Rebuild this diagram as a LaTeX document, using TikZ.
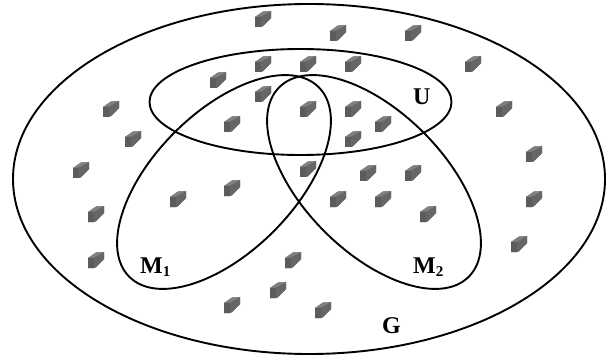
\documentclass[tikz,border=0pt]{standalone}
\usepackage{fontspec}
\setmainfont{Liberation Serif}
\newcommand{\subdigit}[1]{\raisebox{-3pt}{\fontsize{15}{15}\selectfont #1}}
\tikzset{
  region/.style={draw=black,line width=1.9pt,fill=none},
  lab/.style={font=\bfseries\fontsize{24}{26}\selectfont,inner sep=0pt,text=black,anchor=base west},
  pics/brick/.style={code={
    \begin{scope}[yscale=-1]
    \fill[black!55] (-8,-8) -- (-8,2) -- (0,7.5) -- (8,8) -- (8,1) -- (0,-7) -- (-3,-8) -- cycle;
    \fill[black!64] (-8,-8) -- (-8,2) -- (-2,2.5) -- (-2,-8) -- cycle;
    \fill[black!64] (-2,-8) -- (-3,-8) -- (0,-7) -- (-1,-4) -- cycle;
    \fill[black!60] (-2,2.5) -- (-2,-8) -- (0,-7) -- (8,1) -- (8,8) -- cycle;
    \fill[black!50] (-8,2) -- (0,7.5) -- (8,8) -- (-2,2.5) -- cycle;
    \end{scope}
  }}
}
\begin{document}
\begin{tikzpicture}[x=1pt,y=-1pt]
\useasboundingbox (0,0) rectangle (607,358);
\fill[white] (0,0) rectangle (607,358);
\foreach \px/\py in {263/19,338/33,413/33,473/64,218/80,263/64,308/64,353/64,263/94,308/109,353/109,383/124,353/139,232/124,111/109,133/139,81/170,308/169,368/173,413/173,232/188,178/199,338/199,383/199,428/214,96/214,96/260,293/260,278/290,232/305,323/310,504/109,534/154,534/199,519/244}
  \pic at (\px,\py) {brick};
\draw[region] (309,179) ellipse [x radius=296,y radius=175];
\draw[region] (300.5,102) ellipse [x radius=151,y radius=53];
\draw[region,rotate around={-45:(224,182)}] (224,182) ellipse [x radius=70,y radius=134];
\draw[region,rotate around={45:(374,182)}] (374,182) ellipse [x radius=70,y radius=134];
\node[lab] (labU) at (413,105) {U};
\node[lab] (labG) at (382,333) {G};
\node[lab] (labMa) at (140,273) {M\subdigit{1}};
\node[lab] (labMb) at (413,273) {M\subdigit{2}};
\end{tikzpicture}
\end{document}
